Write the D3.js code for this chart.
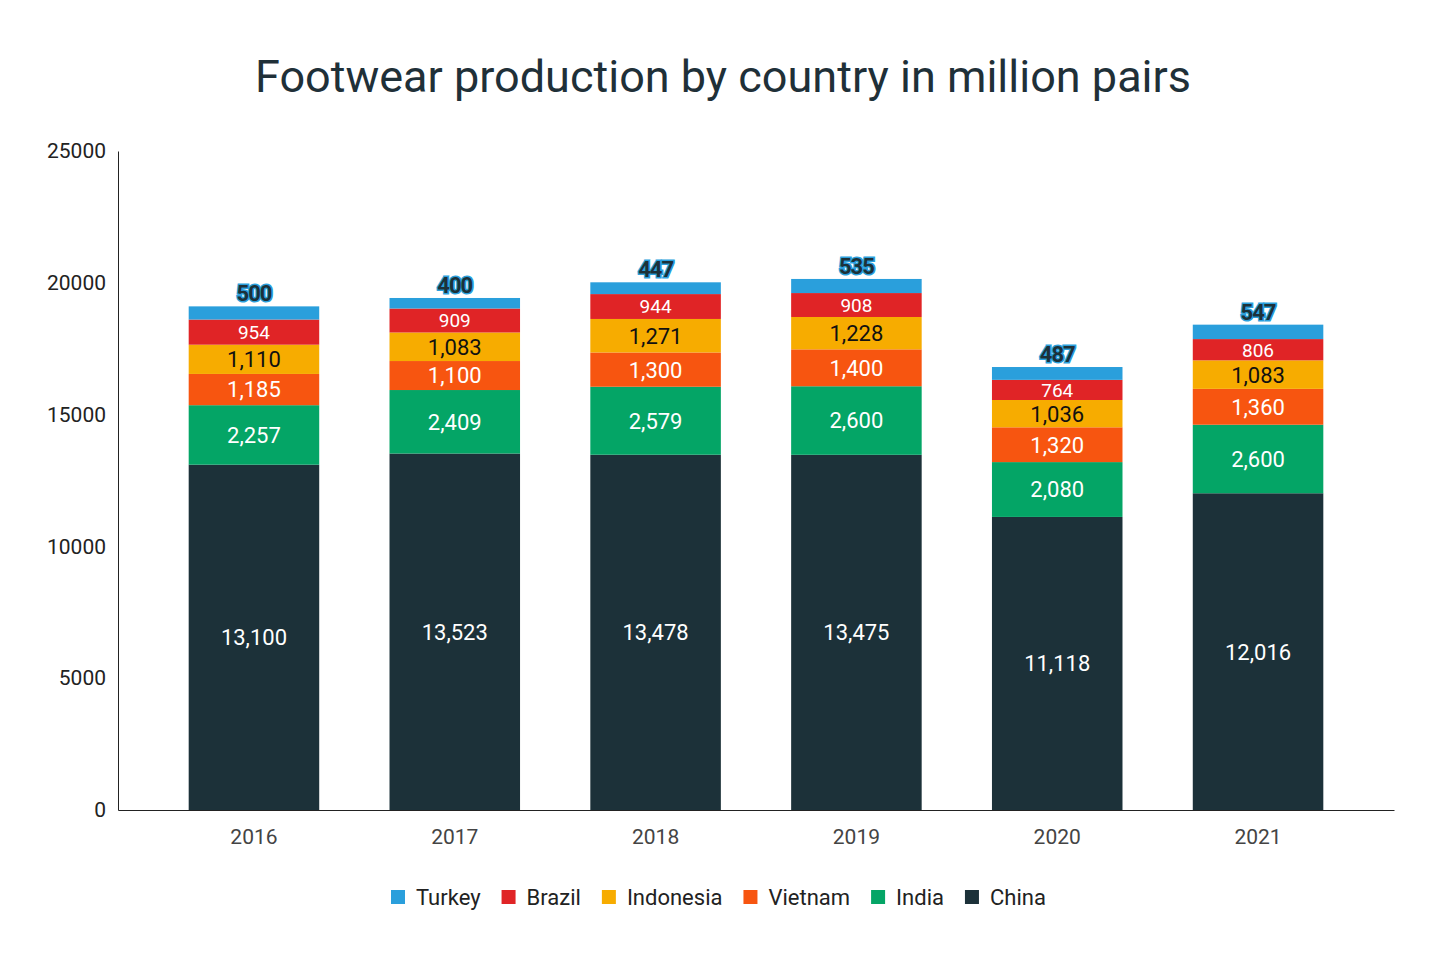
<!DOCTYPE html>
<html><head><meta charset="utf-8">
<script src="https://cdn.jsdelivr.net/npm/d3@7"></script>
<style>body{margin:0;background:#fff;font-family:Roboto,sans-serif}</style>
</head><body><svg id="chart" width="1440" height="960"></svg>
<script>
const years = ["2016","2017","2018","2019","2020","2021"];
const series = ["China","India","Vietnam","Indonesia","Brazil","Turkey"];
const china = [13100,13523,13478,13475,11118,12016];
const india = [2257,2409,2579,2600,2080,2600];
const vietnam = [1185,1100,1300,1400,1320,1360];
const indonesia = [1110,1083,1271,1228,1036,1083];
const brazil = [954,909,944,908,764,806];
const turkey = [500,400,447,535,487,547];
const yTicks = [0,5000,10000,15000,20000,25000];
const colors = {China:"#1c3139",India:"#04a566",Vietnam:"#f75510",Indonesia:"#f7ac00",Brazil:"#e02426",Turkey:"#2a9fdc"};
const labelColor = {China:"#fff",India:"#fff",Vietnam:"#fff",Indonesia:"#111",Brazil:"#fff",Turkey:"#1c3139"};

const rows = years.map((y,i)=>({year:y,China:china[i],India:india[i],Vietnam:vietnam[i],Indonesia:indonesia[i],Brazil:brazil[i],Turkey:turkey[i]}));
const stack = d3.stack().keys(series)(rows);

const svg = d3.select("#chart");
const margin = {left:118, right:46, top:151, bottom:150};
const width = 1440 - margin.left - margin.right;
const height = 960 - margin.top - margin.bottom;

const x = d3.scaleBand().domain(years).range([margin.left, margin.left+width]).paddingInner(0.35).paddingOuter(0.352);
const y = d3.scaleLinear().domain([0,25000]).range([margin.top+height, margin.top]);

svg.append("text").attr("x",723).attr("y",92).attr("text-anchor","middle")
   .attr("font-size",45).attr("fill","#1f3038").text("Footwear production by country in million pairs");

svg.append("g").attr("transform","translate("+margin.left+",0)")
   .call(d3.axisLeft(y).tickValues(yTicks).tickFormat(d3.format("d")).tickSize(0).tickPadding(12))
   .call(g=>g.select(".domain").attr("stroke","#222"))
   .call(g=>g.selectAll("text").attr("font-size",21).attr("fill","#222").attr("font-family","Roboto"));

svg.append("g").attr("transform","translate(0,"+(margin.top+height)+")")
   .call(d3.axisBottom(x).tickSize(0).tickPadding(19))
   .call(g=>g.select(".domain").attr("stroke","#222"))
   .call(g=>g.selectAll("text").attr("font-size",21).attr("fill","#444").attr("font-family","Roboto"));

const fmt = d3.format(",");
stack.forEach(layer=>{
  const key = layer.key;
  const g = svg.append("g");
  g.selectAll("rect").data(layer).join("rect")
    .attr("x",d=>x(d.data.year)).attr("width",x.bandwidth())
    .attr("y",d=>y(d[1])).attr("height",d=>y(d[0])-y(d[1]))
    .attr("fill",colors[key]);
  if(key==="Turkey"){
    g.selectAll("text").data(layer).join("text")
      .attr("x",d=>x(d.data.year)+x.bandwidth()/2).attr("y",d=>y(d[1])-5)
      .attr("text-anchor","middle").attr("font-size",22).attr("font-weight","bold")
      .attr("fill",labelColor[key]).attr("stroke","#2a9fdc").attr("stroke-width",3)
      .attr("paint-order","stroke").attr("letter-spacing",-1)
      .text(d=>fmt(d.data[key]));
  } else {
    const fs = key==="Brazil"?19:22;
    g.selectAll("text").data(layer).join("text")
      .attr("x",d=>x(d.data.year)+x.bandwidth()/2).attr("y",d=>(y(d[0])+y(d[1]))/2)
      .attr("dy","0.36em").attr("text-anchor","middle").attr("font-size",fs)
      .attr("fill",labelColor[key]).text(d=>fmt(d.data[key]));
  }
});

const legendItems = ["Turkey","Brazil","Indonesia","Vietnam","India","China"];
const legend = svg.append("g");
let lx = 391;
legendItems.forEach(k=>{
  legend.append("rect").attr("x",lx).attr("y",890).attr("width",14).attr("height",14).attr("fill",colors[k]);
  const t = legend.append("text").attr("x",lx+25).attr("y",905).attr("font-size",22).attr("fill","#222").text(k);
  lx += 25 + t.node().getComputedTextLength() + 21;
});
</script></body></html>
